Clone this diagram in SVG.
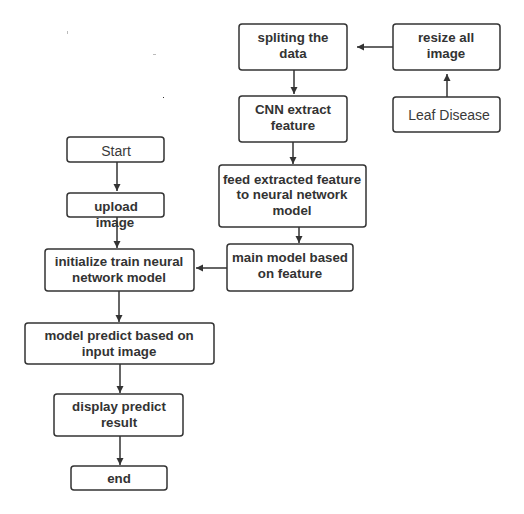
<svg xmlns="http://www.w3.org/2000/svg" width="524" height="514" viewBox="0 0 524 514">
<style>
.box{fill:#fff;stroke:#333;stroke-width:1.5}
.t{font-family:"Liberation Sans",Arial,sans-serif;font-size:13.3px;font-weight:bold;fill:#333;text-anchor:middle}
.n{font-family:"Liberation Sans",Arial,sans-serif;font-size:14px;fill:#3a3a3a;text-anchor:middle}
.c{stroke:#333;stroke-width:1.5;fill:none;marker-end:url(#ah)}
</style>
<defs>
<marker id="ah" markerWidth="8" markerHeight="8" refX="7" refY="4" orient="auto" markerUnits="userSpaceOnUse">
<path d="M0,0.5 L7,4 L0,7.5 Z" fill="#333"/>
</marker>
</defs>
<rect width="524" height="514" fill="#fff"/>
<g fill="#bbb">
<rect x="67" y="31" width="1" height="3"/>
<rect x="153" y="54" width="3" height="1"/>
<rect x="163" y="97" width="1" height="1" fill="#333"/>
</g>
<g id="connectors">
<line class="c" x1="393" y1="47" x2="357" y2="47"/>
<line class="c" x1="447" y1="97" x2="447" y2="74"/>
<line class="c" x1="294" y1="70" x2="294" y2="94"/>
<line class="c" x1="293" y1="142" x2="293" y2="164"/>
<line class="c" x1="299" y1="227" x2="299" y2="243"/>
<line class="c" x1="227" y1="268" x2="196" y2="268"/>
<line class="c" x1="117" y1="162" x2="117" y2="191"/>
<line class="c" x1="117" y1="217" x2="117" y2="248"/>
<line class="c" x1="119" y1="291" x2="119" y2="322"/>
<line class="c" x1="120" y1="364" x2="120" y2="393"/>
<line class="c" x1="120" y1="436" x2="120" y2="465"/>
</g>
<g id="split"><rect class="box" x="239" y="24" width="108" height="46" rx="3"/><text class="t" x="293" y="42">spliting the</text><text class="t" x="293" y="58">data</text></g>
<g id="resize"><rect class="box" x="393" y="24" width="107" height="46" rx="3"/><text class="t" x="446" y="42">resize all</text><text class="t" x="446" y="58">image</text></g>
<g id="cnn"><rect class="box" x="239" y="96" width="108" height="46" rx="3"/><text class="t" x="293" y="114">CNN extract</text><text class="t" x="293" y="130">feature</text></g>
<g id="leaf"><rect class="box" x="393" y="97" width="107" height="35" rx="3"/><text class="n" x="449" y="120">Leaf Disease</text></g>
<g id="feed"><rect class="box" x="219" y="165" width="147" height="62" rx="3"/><text class="t" x="292" y="184">feed extracted feature</text><text class="t" x="292" y="199">to neural network</text><text class="t" x="292" y="215">model</text></g>
<g id="main"><rect class="box" x="227" y="244" width="126" height="47" rx="3"/><text class="t" x="290" y="262">main model based</text><text class="t" x="290" y="278">on feature</text></g>
<g id="start"><rect class="box" x="67" y="137" width="97" height="25" rx="3"/><text class="n" x="116" y="156">Start</text></g>
<g id="upload"><rect class="box" x="67" y="193" width="97" height="24" rx="3"/><text class="t" x="116" y="211">upload</text><text class="t" x="115" y="227">image</text></g>
<g id="init"><rect class="box" x="45" y="249" width="149" height="42" rx="3"/><text class="t" x="119" y="266">initialize train neural</text><text class="t" x="119" y="282">network model</text></g>
<g id="predict"><rect class="box" x="25" y="323" width="189" height="41" rx="3"/><text class="t" x="119" y="340">model predict based on</text><text class="t" x="119" y="356">input image</text></g>
<g id="display"><rect class="box" x="54" y="394" width="129" height="42" rx="3"/><text class="t" x="119" y="411">display predict</text><text class="t" x="119" y="427">result</text></g>
<g id="end"><rect class="box" x="71" y="466" width="96" height="24" rx="3"/><text class="t" x="119" y="483">end</text></g>
</svg>
